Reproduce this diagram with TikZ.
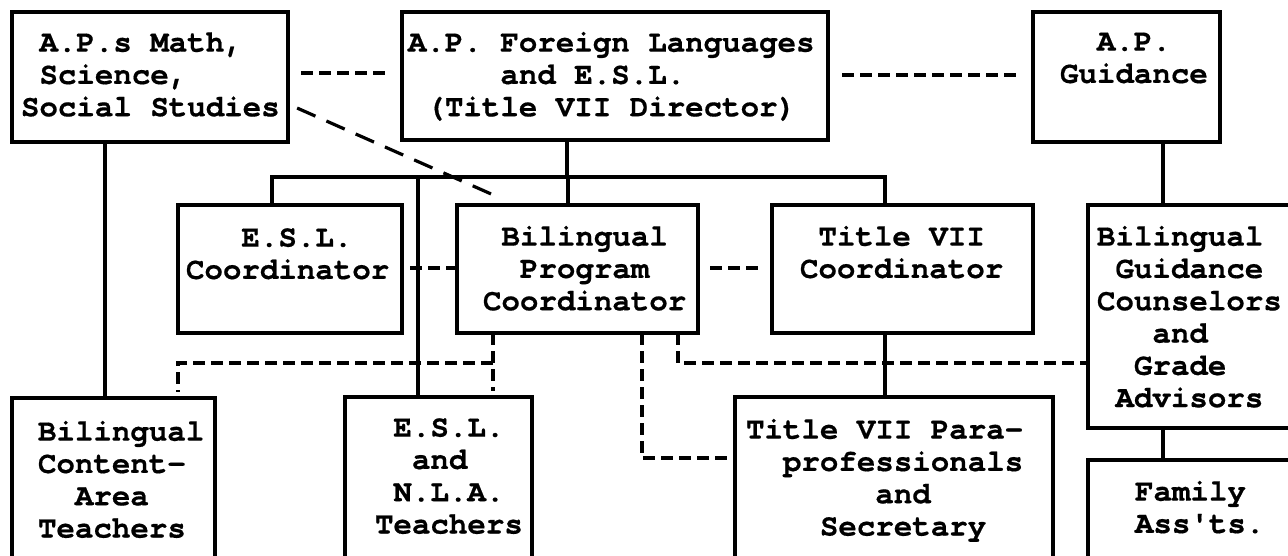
\documentclass[tikz,border=0pt]{standalone}
\usepackage{fontspec}
\newfontfamily\mono{TeX Gyre Cursor}[BoldFeatures={FakeBold=0.5}]
\begin{document}
\begin{tikzpicture}[x=1pt,y=-1pt]
\tikzset{
 box/.style={draw=black, line width=3.2pt, inner sep=0pt, outer sep=0pt},
 lbl/.style={anchor=north west, inner sep=0pt, outer sep=0pt, align=left, font=\mono\bfseries\fontsize{30.8}{32.3}\selectfont},
 conn/.style={line width=3.2pt},
 dsh/.style={line width=3.2pt, dash pattern=on 12pt off 6pt},
 ddiag/.style={line width=3.2pt, dash pattern=on 20pt off 12pt},
}
\useasboundingbox (0,0) rectangle (1288,556);
\clip (0,0) rectangle (1288,556);

% boxes
\node[box, minimum width=276pt, minimum height=130pt] (b1) at (150,77) {};
\node[box, minimum width=426pt, minimum height=128pt] (b2) at (615,76) {};
\node[box, minimum width=187pt, minimum height=130pt] (b3) at (1126.5,77) {};
\node[box, minimum width=224pt, minimum height=128pt] (c1) at (290,269) {};
\node[box, minimum width=241pt, minimum height=128pt] (c2) at (577.5,269) {};
\node[box, minimum width=261pt, minimum height=128pt] (c3) at (902.5,269) {};
\node[box, minimum width=212pt, minimum height=223pt] (c4) at (1194,316.5) {};
\node[box, minimum width=203pt, minimum height=172pt] (d1) at (113.5,484) {};
\node[box, minimum width=187pt, minimum height=173pt] (d2) at (438.5,483.5) {};
\node[box, minimum width=318pt, minimum height=173pt] (d3) at (894,483.5) {};
\node[box, minimum width=212pt, minimum height=110pt] (d4) at (1194,515) {};

% texts
\node[lbl] (t1) at (21,29) {\strut~A.P.s Math,\\~Science,\\Social Studies};
\node[lbl] (t2) at (408,29) {\strut A.P. Foreign Languages\\~~~~~and E.S.L.\\~(Title VII Director)};
\node[lbl] (t3) at (1060,28) {\strut~~A.P.\\Guidance};
\node[lbl] (t4) at (186,224) {\strut~~~E.S.L.\\Coordinator};
\node[lbl] (t5) at (483,223) {\strut~Bilingual\\~~Program\\Coordinator};
\node[lbl] (t6) at (800,223) {\strut~Title VII\\Coordinator};
\node[lbl] (t7) at (1097,223) {\strut Bilingual\\~Guidance\\Counselors\\~~~and\\~~Grade\\~Advisors};
\node[lbl] (t8) at (38,418) {\strut Bilingual\\Content-\\~~Area\\Teachers};
\node[lbl] (t9) at (375,414) {\strut~E.S.L.\\~~and\\~N.L.A.\\Teachers};
\node[lbl] (t10) at (746,416) {\strut Title VII Para-\\~~professionals\\~~~~~~~and\\~~~~Secretary};
\node[lbl] (t11) at (1135,478) {\strut Family\\Ass'ts.};

% helper coordinates
\coordinate (xA) at (567,0);
\coordinate (x272) at (272,0);
\coordinate (x418) at (418,0);
\coordinate (x568) at (568,0);
\coordinate (x885) at (885,0);
\coordinate (x1163) at (1163,0);
\coordinate (x105) at (105,0);
\coordinate (x493) at (493,0);
\coordinate (x178) at (178,0);
\coordinate (x642) at (642,0);
\coordinate (x678) at (678,0);
\coordinate (xdiag) at (516,0);
\coordinate (bar) at (0,177);
\coordinate (y73) at (0,73);
\coordinate (y75) at (0,75);
\coordinate (ydiag) at (0,104);
\coordinate (y268) at (0,268);
\coordinate (y363) at (0,363);
\coordinate (y458) at (0,458);

% solid connectors
\draw[conn] (b2.south -| xA) -- (bar -| xA);
\draw[conn] (c1.north -| x272) -- (bar -| x272) -- (bar -| x885) -- (c3.north -| x885);
\draw[conn] (bar -| x418) -- (d2.north -| x418);
\draw[conn] (bar -| x568) -- (c2.north -| x568);
\draw[conn] (c3.south -| x885) -- (d3.north -| x885);
\draw[conn] (b3.south -| x1163) -- (c4.north -| x1163);
\draw[conn] (c4.south -| x1163) -- (d4.north -| x1163);
\draw[conn] (b1.south -| x105) -- (d1.north -| x105);

% dashed connectors
\draw[dsh, shorten <=13pt, shorten >=13pt] (b1.east |- y73) -- (b2.west |- y73);
\draw[dsh, shorten <=14pt, shorten >=13pt] (b2.east |- y75) -- (b3.west |- y75);
\draw[ddiag, shorten <=10pt, shorten >=16pt] (b1.east |- ydiag) -- (c2.north -| xdiag);
\draw[dsh, shorten <=8pt, shorten >=2pt] (c1.east |- y268) -- (c2.west |- y268);
\draw[dsh, shorten <=12pt, shorten >=12pt] (c2.east |- y268) -- (c3.west |- y268);
\draw[dsh, shorten >=6pt] (c2.south -| x493) -- (d2.north -| x493);
\draw[dsh, shorten >=6pt] (y363 -| x493) -- (y363 -| x178) -- (d1.north -| x178);
\draw[dsh] (c2.south -| x642) -- (y458 -| x642) -- (d3.west |- y458);
\draw[dsh] (c2.south -| x678) -- (y363 -| x678) -- (c4.west |- y363);
\end{tikzpicture}
\end{document}
